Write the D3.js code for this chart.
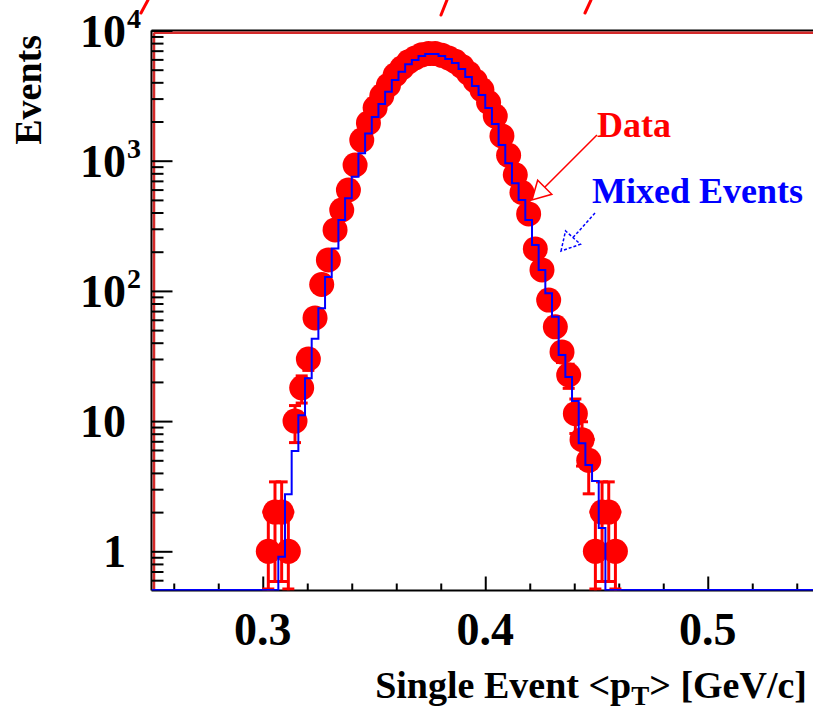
<!DOCTYPE html>
<html>
<head>
<meta charset="utf-8">
<script src="https://cdn.jsdelivr.net/npm/d3@7"></script>
<style>
  html, body { margin: 0; padding: 0; background: #fff; }
  svg { display: block; }
  text { font-family: "Liberation Serif", "DejaVu Serif", serif; font-weight: bold; }
</style>
</head>
<body>
<svg id="chart"></svg>
<script>
// histogram binning: 100 bins from 0.25 to 0.55
const xMin = 0.25;
const xMax = 0.55;
const binWidth = 0.003;

// mixed events (blue step histogram), bins 19..67
const mixedFirstBin = 19;
const mixedEvents = [0.91, 2.74, 5.9, 11.1, 21.3, 43, 73.5, 128, 212, 350,
  514, 753, 1140, 1620, 2170, 2730, 3390, 4170, 4830, 5500,
  5940, 6370, 6600, 6600, 6370, 6040, 5630, 5060, 4400, 3750,
  3200, 2540, 1910, 1320, 955, 670, 499, 350, 225, 145,
  96, 63.4, 32.2, 21.8, 14.3, 6.75, 4.6, 3.47, 1.51];

// data (red points), bins 17..69
const dataFirstBin = 17;
const dataEvents = [1, 2, 2, 1, 10, 18, 30, 62, 112, 173,
  294, 418, 596, 927, 1440, 1950, 2550, 3150, 3800, 4550,
  5150, 5750, 6150, 6500, 6650, 6650, 6450, 6150, 5800, 5300,
  4700, 4100, 3500, 2800, 2200, 1550, 1100, 780, 570, 390,
  210, 145, 85, 53, 34, 22.6, 11.4, 7.2, 5, 1,
  2, 2, 1];

const xTickValues = [0.3, 0.4, 0.5];
const xTickLabels = ["0.3", "0.4", "0.5"];
const yTickValues = [1, 10, 100, 1000, 10000];
const yTickBase = ["1", "10", "10", "10", "10"];
const yTickExp = ["", "", "2", "3", "4"];

const width = 813, height = 712;
const svg = d3.select("#chart").attr("width", width).attr("height", height);

const pLeft = 151.5, pTop = 30.5, pBottom = 590.5;
const x = d3.scaleLinear().domain([xMin, xMax]).range([pLeft, 819]);
const y = d3.scaleLog().domain([0.5, 1e4]).range([pBottom, pTop]);
const yc = v => y(Math.max(v, 0.5));

svg.append("clipPath").attr("id", "plot")
  .append("rect").attr("x", pLeft).attr("y", pTop).attr("width", width - pLeft).attr("height", pBottom - pTop);

// red top fragments (cut-off handwriting)
const frags = [[148, 0, 141, 13], [447, 0, 441, 15], [591, 0, 585, 13]];
svg.selectAll(".frag").data(frags).join("line")
  .attr("x1", d => d[0]).attr("y1", d => d[1]).attr("x2", d => d[2]).attr("y2", d => d[3])
  .attr("stroke", "#f00").attr("stroke-width", 3).attr("stroke-linecap", "round");

// frame
svg.append("line").attr("x1", pLeft).attr("x2", width).attr("y1", pTop).attr("y2", pTop)
  .attr("stroke", "#000").attr("stroke-width", 2);
svg.append("line").attr("x1", pLeft).attr("x2", pLeft).attr("y1", pTop).attr("y2", pBottom)
  .attr("stroke", "#000").attr("stroke-width", 2);
svg.append("line").attr("x1", pLeft + 2.5).attr("x2", width).attr("y1", pTop + 2.3).attr("y2", pTop + 2.3)
  .attr("stroke", "#d42a2a").attr("stroke-width", 2.5);
svg.append("line").attr("x1", pLeft + 2.5).attr("x2", pLeft + 2.5).attr("y1", pTop + 2).attr("y2", pBottom)
  .attr("stroke", "#d42a2a").attr("stroke-width", 2.5);

// x axis ticks (inside)
const minorX = d3.range(0.26, 0.551, 0.02).filter(v => !xTickValues.some(t => Math.abs(t - v) < 1e-6));
const gx = svg.append("g").attr("transform", `translate(0,${pBottom})`);
gx.call(d3.axisTop(x).tickValues(minorX).tickSize(7).tickFormat(""));
gx.select(".domain").remove();
const gx2 = svg.append("g").attr("transform", `translate(0,${pBottom})`);
gx2.call(d3.axisTop(x).tickValues(xTickValues).tickSize(14).tickFormat(""));
gx2.select(".domain").remove();
svg.append("line").attr("x1", pLeft).attr("x2", width).attr("y1", pBottom).attr("y2", pBottom)
  .attr("stroke", "#000").attr("stroke-width", 2);

// y axis ticks (inside)
const minorY = [];
[0.1, 1, 10, 100, 1000].forEach(dec => {
  for (let m = 2; m <= 9; m++) if (m * dec >= 0.6 && m * dec < 1e4) minorY.push(m * dec);
});
const gy = svg.append("g").attr("transform", `translate(${pLeft},0)`);
gy.call(d3.axisRight(y).tickValues(minorY).tickSize(12).tickFormat(""));
gy.select(".domain").remove();
const gy2 = svg.append("g").attr("transform", `translate(${pLeft},0)`);
gy2.call(d3.axisRight(y).tickValues(yTickValues).tickSize(21).tickFormat(""));
gy2.select(".domain").remove();
svg.selectAll("g .tick line").attr("stroke", "#000").attr("stroke-width", 2);

// tick labels
svg.selectAll(".xlab").data(xTickValues).join("text")
  .attr("x", d => x(d)).attr("y", 645)
  .attr("text-anchor", "middle").attr("font-size", 46).text((d, i) => xTickLabels[i]);
svg.selectAll(".ylab").data(yTickValues).join("text")
  .attr("x", 126).attr("y", d => y(d) + 16)
  .attr("text-anchor", "end").attr("font-size", 46).text((d, i) => yTickBase[i]);
svg.selectAll(".yexp").data(yTickValues).join("text")
  .attr("x", 127).attr("y", d => y(d) - 3)
  .attr("font-size", 28).text((d, i) => yTickExp[i]);

// axis titles
const xt = svg.append("text").attr("x", 807).attr("y", 698).attr("text-anchor", "end").attr("font-size", 38);
xt.append("tspan").text("Single Event  <p");
xt.append("tspan").attr("font-size", 27).attr("dy", 7).text("T");
xt.append("tspan").attr("dy", -7).text("> [GeV/c]");
svg.append("text").attr("transform", "translate(41,35) rotate(-90)")
  .attr("text-anchor", "end").attr("font-size", 38).text("Events");

// data points with error bars
const plot = svg.append("g").attr("clip-path", "url(#plot)");
const pts = dataEvents.map((v, i) => {
  const k = dataFirstBin + i;
  return { x: xMin + binWidth * (k + 0.5), v, e: Math.sqrt(v) };
});
const cap = 6;
const eb = plot.selectAll(".err").data(pts).join("g").attr("stroke", "#f00").attr("stroke-width", 3);
eb.append("line").attr("x1", d => x(d.x)).attr("x2", d => x(d.x))
  .attr("y1", d => yc(d.v + d.e)).attr("y2", d => yc(d.v - d.e));
eb.append("line").attr("x1", d => x(d.x) - cap).attr("x2", d => x(d.x) + cap)
  .attr("y1", d => yc(d.v + d.e)).attr("y2", d => yc(d.v + d.e));
eb.append("line").attr("x1", d => x(d.x) - cap).attr("x2", d => x(d.x) + cap)
  .attr("y1", d => Math.min(yc(d.v - d.e), pBottom - 1.5)).attr("y2", d => Math.min(yc(d.v - d.e), pBottom - 1.5));
plot.selectAll(".pt").data(pts).join("circle")
  .attr("cx", d => x(d.x)).attr("cy", d => y(d.v)).attr("r", 12.5).attr("fill", "#f00");

// mixed events step histogram
const nBins = Math.round((xMax - xMin) / binWidth);
const steps = [];
for (let k = 0; k < nBins; k++) {
  const j = k - mixedFirstBin;
  const v = (j >= 0 && j < mixedEvents.length) ? mixedEvents[j] : 0;
  steps.push([xMin + binWidth * k, v], [xMin + binWidth * (k + 1), v]);
}
plot.append("path").datum(steps)
  .attr("d", d3.line().x(d => x(d[0])).y(d => Math.min(yc(d[1]), pBottom - 0.5)))
  .attr("fill", "none").attr("stroke", "#00f").attr("stroke-width", 2);

// legend labels and arrows
function arrow(x1, y1, x2, y2, color, dash) {
  const dx = x2 - x1, dy = y2 - y1, len = Math.hypot(dx, dy);
  const ux = dx / len, uy = dy / len, L = 18, W = 10;
  const bx = x2 - ux * L, by = y2 - uy * L;
  svg.append("line").attr("x1", x1).attr("y1", y1).attr("x2", bx).attr("y2", by)
    .attr("stroke", color).attr("stroke-width", 1.5).attr("stroke-dasharray", dash);
  svg.append("path")
    .attr("d", `M${x2},${y2}L${bx - uy * W},${by + ux * W}L${bx + uy * W},${by - ux * W}Z`)
    .attr("fill", "#fff").attr("stroke", color).attr("stroke-width", 1.5).attr("stroke-dasharray", dash);
}
arrow(597, 135, 532, 200, "#f00", null);
arrow(595, 213, 561, 251, "#00f", "3,2");

svg.append("text").attr("x", 597).attr("y", 137).attr("font-size", 36).attr("fill", "#f00").text("Data");
svg.append("text").attr("x", 592).attr("y", 203).attr("font-size", 36).attr("fill", "#00f").text("Mixed Events");
</script>
</body>
</html>
